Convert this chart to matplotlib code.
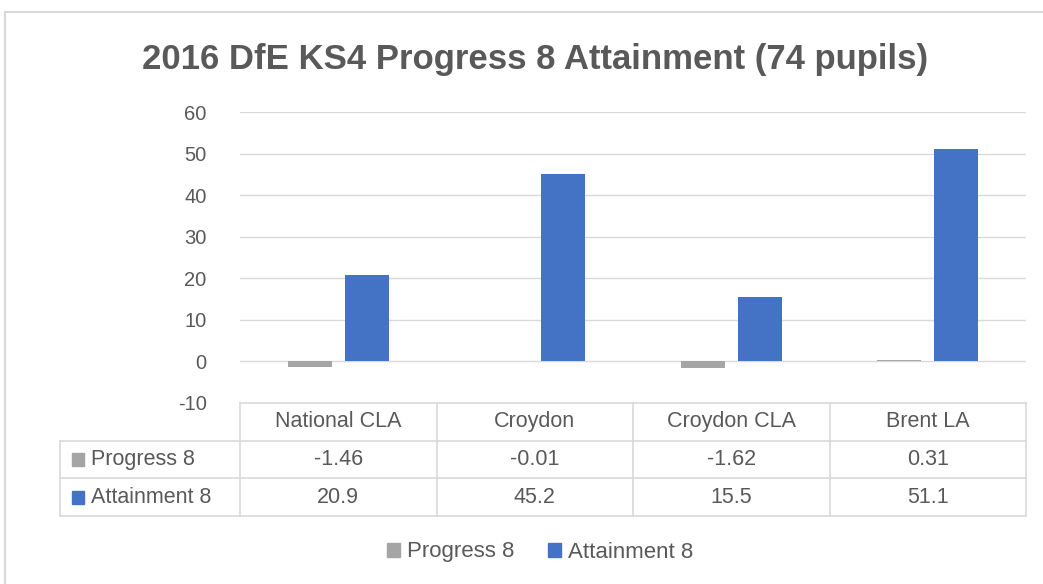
import matplotlib.pyplot as plt
import numpy as np
from matplotlib.lines import Line2D
from matplotlib.patches import Rectangle

categories = ['National CLA', 'Croydon', 'Croydon CLA', 'Brent LA']
series_names = ['Progress 8', 'Attainment 8']
progress8 = [-1.46, -0.01, -1.62, 0.31]
attainment8 = [20.9, 45.2, 15.5, 51.1]
progress_labels = ['-1.46', '-0.01', '-1.62', '0.31']
attainment_labels = ['20.9', '45.2', '15.5', '51.1']
yticks = [-10, 0, 10, 20, 30, 40, 50, 60]

GREY = '#a5a5a5'
BLUE = '#4472c4'
TXT = '#595959'
GRID = '#d9d9d9'
W, H = 1043, 584

plt.rcParams['font.family'] = ['Liberation Sans', 'DejaVu Sans']

fig = plt.figure(figsize=(W / 100, H / 100), dpi=100)

# outer chart frame (only top and left edges are in view)
fig.add_artist(Line2D([5 / W, 5 / W], [0, 1 - 12 / H], color=GRID, lw=1.5))
fig.add_artist(Line2D([5 / W, 1], [1 - 12 / H, 1 - 12 / H], color=GRID, lw=1.5))

fig.text(535 / W, 1 - 60 / H, '2016 DfE KS4 Progress 8 Attainment (74 pupils)',
         ha='center', va='center', fontsize=25, fontweight='bold', color=TXT)

# bar area
x0, x1, ytop, ybot = 240, 1026, 112, 403
ax = fig.add_axes([x0 / W, 1 - ybot / H, (x1 - x0) / W, (ybot - ytop) / H])
x = np.arange(len(categories))
bw = 0.224
off = 0.145
ax.bar(x - off, progress8, bw, color=GREY, zorder=3)
ax.bar(x + off, attainment8, bw, color=BLUE, zorder=3)
ax.set_xlim(-0.5, len(categories) - 0.5)
ax.set_ylim(-10, 60)
ax.set_yticks(yticks)
ax.set_yticklabels([str(t) for t in yticks])
ax.tick_params(axis='y', length=0, labelsize=14.5, labelcolor=TXT, pad=24)
ax.set_xticks([])
for t in yticks:
    if t > -10:
        ax.axhline(t, color=GRID, lw=1, zorder=1)
for s in ax.spines.values():
    s.set_visible(False)

# data table under the bars
lx = 60
cat_px = (x1 - x0) / len(categories)
lead = (x0 - lx) / cat_px
tb = 516
tax = fig.add_axes([lx / W, 1 - tb / H, (x1 - lx) / W, (tb - ybot) / H])
tax.set_xlim(-0.5 - lead, len(categories) - 0.5)
tax.set_ylim(3, 0)
tax.axis('off')
lk = dict(color=GRID, lw=1.2, clip_on=False)
tax.plot([-0.5, len(categories) - 0.5], [0, 0], **lk)
for yy in (1, 2, 3):
    tax.plot([-0.5 - lead, len(categories) - 0.5], [yy, yy], **lk)
for i in range(len(categories) + 1):
    tax.plot([i - 0.5, i - 0.5], [0, 3], **lk)
tax.plot([-0.5 - lead, -0.5 - lead], [1, 3], **lk)
fs = 15.5
for i, c in enumerate(categories):
    tax.text(i, 0.5, c, ha='center', va='center', fontsize=fs, color=TXT)
    tax.text(i, 1.5, progress_labels[i], ha='center', va='center', fontsize=fs, color=TXT)
    tax.text(i, 2.5, attainment_labels[i], ha='center', va='center', fontsize=fs, color=TXT)
for r, (name, col) in enumerate(zip(series_names, [GREY, BLUE])):
    sx = -0.5 - lead + 12 / cat_px
    tax.add_patch(Rectangle((sx, 1.5 + r - 0.17), 12 / cat_px, 0.34, color=col, clip_on=False))
    tax.text(sx + 19 / cat_px, 1.5 + r, name, ha='left', va='center', fontsize=fs, color=TXT)

# legend
handles = [Rectangle((0, 0), 1, 1, color=GREY), Rectangle((0, 0), 1, 1, color=BLUE)]
fig.legend(handles, series_names, loc='center', bbox_to_anchor=(540 / W, 1 - 552 / H),
           ncol=2, frameon=False, fontsize=16, labelcolor=TXT, handlelength=0.6,
           handleheight=0.6, handletextpad=0.3, columnspacing=1.5)

fig.savefig('out.png', dpi=100)
